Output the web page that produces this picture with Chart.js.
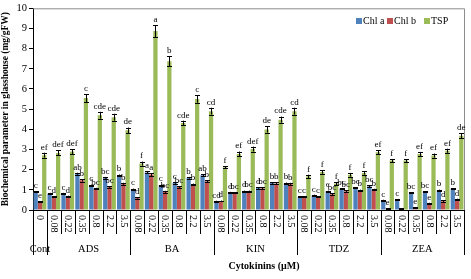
<!DOCTYPE html>
<html>
<head>
<meta charset="utf-8">
<script src="https://cdn.jsdelivr.net/npm/chart.js@4"></script>
<style>
  body { margin: 0; background: #fff; }
  #wrap { width: 471px; height: 279px; position: relative; }
</style>
</head>
<body>
<div id="wrap"><canvas id="plot"></canvas></div>
<script>
const FONT = "'Liberation Serif', 'Times New Roman', serif";

// categories (concentration) and their cytokinin group
const doses = ['0',
  '0.08', '0.22', '0.35', '0.8', '2.2', '3.5',
  '0.08', '0.22', '0.35', '0.8', '2.2', '3.5',
  '0.08', '0.22', '0.35', '0.8', '2.2', '3.5',
  '0.08', '0.22', '0.35', '0.8', '2.2', '3.5',
  '0.08', '0.22', '0.35', '0.8', '2.2', '3.5'];
const groups = ['Cont', 'ADS', 'BA', 'KIN', 'TDZ', 'ZEA'];
const groupSizes = [1, 6, 6, 6, 6, 6];

// series values
const chlA = [0.9,
  0.82, 0.82, 1.8, 1.22, 1.6, 1.72,
  1.03, 1.86, 1.22, 1.34, 1.6, 1.72,
  0.44, 0.87, 0.93, 1.09, 1.34, 1.32,
  0.65, 0.73, 0.93, 1.06, 1.11, 1.18,
  0.49, 0.52, 0.85, 0.9, 0.98, 1.06];
const chlB = [0.41,
  0.65, 0.68, 1.47, 1.06, 1.14, 1.3,
  0.6, 1.76, 0.9, 1.14, 1.27, 1.42,
  0.45, 0.86, 0.92, 1.08, 1.32, 1.3,
  0.65, 0.65, 0.78, 0.93, 0.98, 1.01,
  0.08, 0.08, 0.11, 0.33, 0.44, 0.52];
const tsp = [2.72,
  2.83, 2.9, 5.55, 4.7, 4.6, 3.95,
  2.3, 8.87, 7.38, 4.31, 5.5, 4.9,
  2.12, 2.78, 3.02, 3.99, 4.48, 4.9,
  1.67, 1.88, 1.31, 1.75, 1.83, 2.86,
  2.45, 2.45, 2.78, 2.7, 2.94, 3.68];

// error bar half widths
const errA = [0.03, 0.03, 0.03, 0.05, 0.04, 0.04, 0.04, 0.03, 0.05, 0.04, 0.04, 0.04, 0.05,
  0.02, 0.03, 0.03, 0.03, 0.04, 0.04, 0.02, 0.03, 0.03, 0.03, 0.03, 0.04,
  0.02, 0.02, 0.03, 0.03, 0.03, 0.03];
const errB = [0.03, 0.03, 0.03, 0.06, 0.04, 0.04, 0.05, 0.03, 0.07, 0.05, 0.04, 0.04, 0.05,
  0.02, 0.03, 0.04, 0.04, 0.05, 0.05, 0.02, 0.03, 0.04, 0.04, 0.03, 0.04,
  0.02, 0.02, 0.02, 0.03, 0.04, 0.04];
const errT = [0.12, 0.12, 0.12, 0.2, 0.17, 0.17, 0.14, 0.1, 0.3, 0.25, 0.12, 0.18, 0.17,
  0.06, 0.12, 0.12, 0.15, 0.15, 0.17, 0.08, 0.08, 0.08, 0.09, 0.08, 0.1,
  0.08, 0.08, 0.1, 0.1, 0.1, 0.13];

// significance letters
const letA = ['c',
  'c', 'c', 'ab', 'c', 'bc', 'b',
  'c', 'a', 'c', 'c', 'b', 'ab',
  'cd', 'd', 'd', 'd', 'b', 'b',
  'c', 'c', 'c', 'bc', 'bc', 'bc',
  'c', 'c', 'bc', 'bc', 'b', 'b'];
const letB = ['e',
  'd', 'd', 'b', 'bc', 'bc', 'b',
  'd', 'a', 'bc', 'bc', 'b', 'b',
  'd', 'bc', 'bc', 'bc', 'b', 'b',
  'c', 'c', 'bc', 'bc', 'b', 'b',
  'e', '', 'e', 'e', 'd', 'd'];
const letT = ['ef',
  'def', 'def', 'c', 'cde', 'cde', 'de',
  'f', 'a', 'b', 'cde', 'c', 'cd',
  'f', 'ef', 'def', 'de', 'cde', 'cd',
  'f', 'f', 'f', 'f', 'f', 'ef',
  'f', 'f', 'ef', 'ef', 'ef', 'de'];

const seriesNames = ['Chl a', 'Chl b', 'TSP'];
const colors = ['#4F81BD', '#C0504D', '#9BBB59'];
const errs = [errA, errB, errT];
const letters = [letA, letB, letT];

// error bars, letters, category labels, group labels, legend
const extras = {
  id: 'extras',
  afterDatasetsDraw(c) {
    const ctx = c.ctx, ys = c.scales.y, xs = c.scales.x, area = c.chartArea;
    ctx.save();

    // plot area frame (top / right)
    ctx.strokeStyle = '#8c8c8c';
    ctx.lineWidth = 1;
    ctx.beginPath();
    ctx.moveTo(area.left, area.top + 0.5);
    ctx.lineTo(area.right + 0.5, area.top + 0.5);
    ctx.lineTo(area.right + 0.5, area.bottom);
    ctx.stroke();

    // error bars + letters
    ctx.strokeStyle = '#000';
    ctx.fillStyle = '#000';
    ctx.font = '9px ' + FONT;
    ctx.textAlign = 'center';
    ctx.textBaseline = 'bottom';
    c.data.datasets.forEach((ds, di) => {
      const meta = c.getDatasetMeta(di);
      meta.data.forEach((bar, i) => {
        const v = ds.data[i], e = errs[di][i];
        const yTop = ys.getPixelForValue(v + e), yBot = ys.getPixelForValue(v - e);
        const x = Math.round(bar.x) + 0.5;
        ctx.beginPath();
        ctx.moveTo(x, yTop); ctx.lineTo(x, yBot);
        ctx.moveTo(x - 2.5, Math.round(yTop) + 0.5); ctx.lineTo(x + 2.5, Math.round(yTop) + 0.5);
        ctx.moveTo(x - 2.5, Math.round(yBot) + 0.5); ctx.lineTo(x + 2.5, Math.round(yBot) + 0.5);
        ctx.stroke();
        ctx.fillText(letters[di][i], bar.x, yTop - 1);
      });
    });

    // category labels, rotated clockwise
    ctx.font = '10px ' + FONT;
    ctx.textAlign = 'left';
    ctx.textBaseline = 'middle';
    doses.forEach((d, i) => {
      ctx.save();
      ctx.translate(xs.getPixelForValue(i), area.bottom + 5);
      ctx.rotate(Math.PI / 2);
      ctx.fillText(d, 0, 0);
      ctx.restore();
    });

    // separators and group labels
    const edge = i => {
      if (i <= 0) return area.left;
      if (i >= doses.length) return area.right;
      return (xs.getPixelForValue(i - 1) + xs.getPixelForValue(i)) / 2;
    };
    ctx.strokeStyle = '#000';
    ctx.beginPath();
    for (let i = 1; i < doses.length; i++) {
      const x = Math.round(edge(i)) + 0.5;
      ctx.moveTo(x, area.bottom); ctx.lineTo(x, area.bottom + 24);
    }
    let start = 0;
    const gStarts = [0];
    groupSizes.forEach(n => { start += n; gStarts.push(start); });
    gStarts.forEach(s => {
      const x = Math.round(edge(s)) + 0.5;
      ctx.moveTo(x, area.bottom); ctx.lineTo(x, area.bottom + 45);
    });
    ctx.stroke();

    ctx.font = '10.5px ' + FONT;
    ctx.textAlign = 'center';
    groups.forEach((g, k) => {
      const x0 = edge(gStarts[k]), x1 = edge(gStarts[k + 1]);
      ctx.fillText(g, (x0 + x1) / 2, area.bottom + 39);
    });

    // axis title
    ctx.font = 'bold 10px ' + FONT;
    ctx.fillText('Cytokinins (\u03BCM)', 264, 266);

    // legend
    ctx.font = '10px ' + FONT;
    ctx.textAlign = 'left';
    const lx = [356, 387, 424];
    seriesNames.forEach((n, k) => {
      ctx.fillStyle = colors[k];
      ctx.fillRect(lx[k], 18, 6, 6);
      ctx.fillStyle = '#000';
      ctx.fillText(n, lx[k] + 7, 21.5);
    });
    ctx.restore();
  }
};

new Chart(document.getElementById('plot'), {
  type: 'bar',
  data: {
    labels: doses,
    datasets: [chlA, chlB, tsp].map((d, k) => ({
      label: seriesNames[k],
      data: d,
      backgroundColor: colors[k],
      categoryPercentage: 0.92,
      barPercentage: 1.0
    }))
  },
  options: {
    responsive: true,
    maintainAspectRatio: false,
    animation: false,
    layout: { padding: { top: 6, right: 7, left: 0, bottom: 0 } },
    plugins: { legend: { display: false }, tooltip: { enabled: false } },
    scales: {
      x: {
        grid: { display: false },
        border: { color: '#000' },
        ticks: { display: false },
        afterFit: s => { s.height = 69; }
      },
      y: {
        min: 0, max: 10,
        grid: { drawOnChartArea: false, tickLength: 4, color: '#000' },
        border: { color: '#000' },
        ticks: { stepSize: 1, color: '#000', padding: 2, font: { family: FONT, size: 10.5 } },
        title: {
          display: true,
          text: 'Biochemical parameter in glasshouse (mg/gFW)',
          color: '#000',
          font: { family: FONT, size: 9.5, weight: 'bold' },
          padding: { top: 0, bottom: 0 }
        },
        afterFit: s => { s.width = 33; }
      }
    }
  },
  plugins: [extras]
});
</script>
</body>
</html>
